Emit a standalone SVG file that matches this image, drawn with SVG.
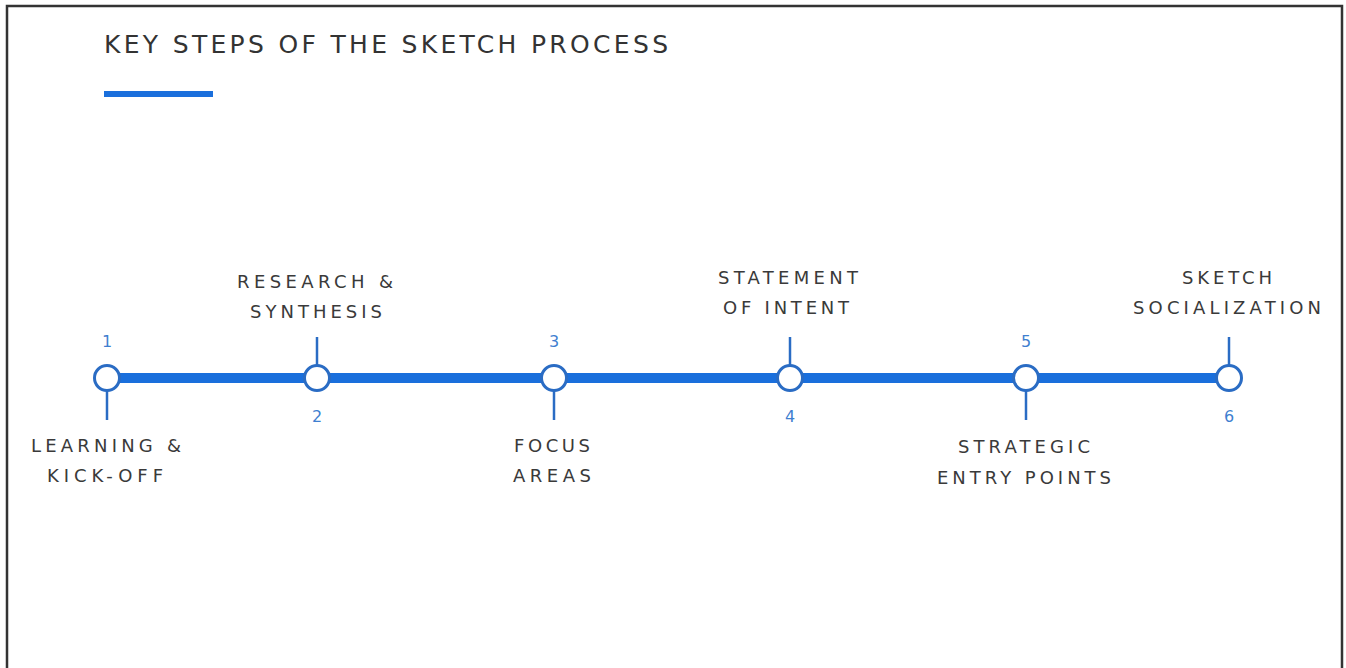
<svg xmlns="http://www.w3.org/2000/svg" width="1346" height="668" viewBox="0 0 1346 668">
<style>
.lbl{font-family:"DejaVu Sans",sans-serif;font-size:18px;fill:#3a3a3a;text-anchor:middle;letter-spacing:2px}
.num{font-family:"DejaVu Sans",sans-serif;font-size:16px;fill:#3f7fd0;text-anchor:middle}
.tick{stroke:#2a6cc4;stroke-width:2.5}
.dot{fill:#fff;stroke:#2a6cc4;stroke-width:3}
</style>
<rect x="0" y="0" width="1346" height="668" fill="#fff"/>
<path d="M7,668 V6 H1342 V668" fill="none" stroke="#333" stroke-width="2.5"/>
<text x="104" y="53" font-family="DejaVu Sans,sans-serif" font-size="25" fill="#333" textLength="564" lengthAdjust="spacing">KEY STEPS OF THE SKETCH PROCESS</text>
<rect x="104" y="91" width="109" height="6" fill="#1a6fdc"/>
<g id="connectors">
<line x1="107" y1="378" x2="1229" y2="378" stroke="#1a6fdc" stroke-width="10"/>
</g>
<g id="step1">
<line class="tick" x1="107" y1="391" x2="107" y2="420"/>
<circle class="dot" cx="107" cy="378" r="12.5"/>
<text class="num" x="107" y="347">1</text>
<text class="lbl" x="107" y="452" textLength="152">LEARNING &amp;</text>
<text class="lbl" x="106" y="482" textLength="118">KICK-OFF</text>
</g>
<g id="step2">
<line class="tick" x1="317" y1="337" x2="317" y2="365"/>
<circle class="dot" cx="317" cy="378" r="12.5"/>
<text class="num" x="317" y="422">2</text>
<text class="lbl" x="316" y="288" textLength="158">RESEARCH &amp;</text>
<text class="lbl" x="317" y="318" textLength="134">SYNTHESIS</text>
</g>
<g id="step3">
<line class="tick" x1="554" y1="391" x2="554" y2="420"/>
<circle class="dot" cx="554" cy="378" r="12.5"/>
<text class="num" x="554" y="347">3</text>
<text class="lbl" x="553" y="452" textLength="78">FOCUS</text>
<text class="lbl" x="553" y="482" textLength="80">AREAS</text>
</g>
<g id="step4">
<line class="tick" x1="790" y1="337" x2="790" y2="365"/>
<circle class="dot" cx="790" cy="378" r="12.5"/>
<text class="num" x="790" y="422">4</text>
<text class="lbl" x="789" y="284" textLength="142">STATEMENT</text>
<text class="lbl" x="787" y="314" textLength="128">OF INTENT</text>
</g>
<g id="step5">
<line class="tick" x1="1026" y1="391" x2="1026" y2="420"/>
<circle class="dot" cx="1026" cy="378" r="12.5"/>
<text class="num" x="1026" y="347">5</text>
<text class="lbl" x="1025" y="453" textLength="134">STRATEGIC</text>
<text class="lbl" x="1025" y="484" textLength="176">ENTRY POINTS</text>
</g>
<g id="step6">
<line class="tick" x1="1229" y1="337" x2="1229" y2="365"/>
<circle class="dot" cx="1229" cy="378" r="12.5"/>
<text class="num" x="1229" y="422">6</text>
<text class="lbl" x="1228" y="284" textLength="92">SKETCH</text>
<text class="lbl" x="1228" y="314" textLength="190">SOCIALIZATION</text>
</g>
</svg>
